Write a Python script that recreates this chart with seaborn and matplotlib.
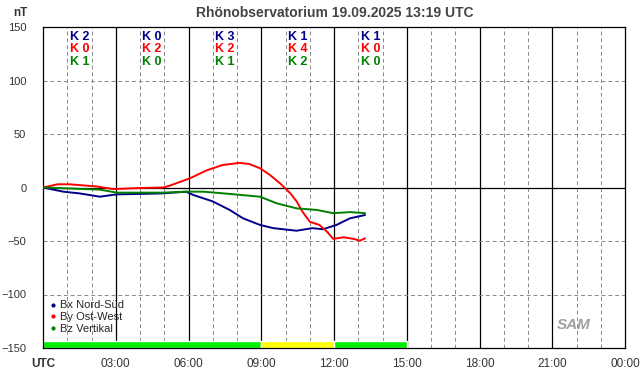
import numpy as np
import pandas as pd
import matplotlib
matplotlib.use("Agg")
import matplotlib.pyplot as plt
import seaborn as sns

# %% data (hours UTC, nT)
bx_h = [0, 0.84, 1.5, 2.35, 3.04, 4.0, 4.96, 5.9, 6.2, 7.0, 7.7, 8.25, 8.95, 9.5, 10.46, 11.1, 11.55, 12.1, 12.66, 13.28]
bx_v = [0, -3.9, -5.5, -8.6, -6.4, -6.0, -5.5, -3.9, -7.0, -13, -21, -28.8, -35, -38, -40.4, -38, -39, -35, -28.8, -25.7]

by_h = [0, 0.6, 1.1, 2.2, 2.9, 4.0, 4.95, 5.2, 6.06, 6.75, 7.4, 8.1, 8.5, 8.95, 9.36, 9.77, 10.2, 10.46, 10.7, 11.0, 11.4, 11.7, 11.97, 12.4, 12.8, 13.07, 13.28]
by_v = [0, 3, 3, 1, -1.5, -0.5, 0, 1.5, 8.6, 16, 21, 23, 22, 18, 11.7, 4, -5.4, -13, -22.6, -32, -35, -41, -48, -46.5, -48, -49.7, -47.5]

bz_h = [0, 1.2, 2.35, 3.04, 4.96, 5.9, 6.6, 7.7, 8.95, 9.64, 10.46, 11.3, 11.97, 12.66, 13.28]
bz_v = [0, -1, -2, -4.8, -4.8, -3.9, -3.9, -6, -8.6, -14.8, -19.5, -21, -24, -23, -24]

k_bx = ["K 2", "K 0", "K 3", "K 1", "K 1"]
k_by = ["K 0", "K 2", "K 2", "K 4", "K 0"]
k_bz = ["K 1", "K 0", "K 1", "K 2", "K 0"]

bar_start = [0, 9, 12]
bar_width = [9, 3, 3]
bar_color = ["#00ee00", "#ffff00", "#00ee00"]

hour_labels = ["UTC", "03:00", "06:00", "09:00", "12:00", "15:00", "18:00", "21:00", "00:00"]
y_ticks = [-150, -100, -50, 0, 50, 100, 150]

names = ["Bx Nord-Süd", "By Ost-West", "Bz Vertikal"]
colors = {"Bx Nord-Süd": "#00008b", "By Ost-West": "#ff0000", "Bz Vertikal": "#008000"}

df = pd.concat([
    pd.DataFrame({"h": bx_h, "v": bx_v, "comp": names[0]}),
    pd.DataFrame({"h": by_h, "v": by_v, "comp": names[1]}),
    pd.DataFrame({"h": bz_h, "v": bz_v, "comp": names[2]}),
])

# %% figure
sns.set_style("white")
plt.rcParams["font.family"] = ["Liberation Sans", "DejaVu Sans"]

fig = plt.figure(figsize=(6.42, 3.76), dpi=100)
ax = fig.add_axes([43 / 642, 28 / 376, 582 / 642, 321 / 376])

# grid
for h in range(1, 24):
    if h % 3 == 0:
        ax.axvline(h, color="black", lw=0.9, zorder=1)
    else:
        ax.axvline(h, color="#888888", lw=0.7, ls=(0, (4, 3)), zorder=1)
for y in [-100, -50, 50, 100]:
    ax.axhline(y, color="#888888", lw=0.7, ls=(0, (4, 3)), zorder=1)
ax.axhline(0, color="black", lw=0.9, zorder=1)

# activity bar
ax.bar(bar_start, 6.5, width=bar_width, bottom=-150, align="edge", color=bar_color, zorder=2)

sns.lineplot(data=df, x="h", y="v", hue="comp", palette=colors, lw=1.4, legend=False, ax=ax, zorder=3)

# K indices
for i in range(5):
    xc = 1.5 + 3 * i
    ax.text(xc, 140.5, k_bx[i], color="#00008b", ha="center", va="center", fontsize=9, fontweight="bold")
    ax.text(xc, 129, k_by[i], color="#ff0000", ha="center", va="center", fontsize=9, fontweight="bold")
    ax.text(xc, 117.5, k_bz[i], color="#008000", ha="center", va="center", fontsize=9, fontweight="bold")

ax.set_xlim(0, 24)
ax.set_ylim(-150, 150)
ax.set_xticks(range(0, 25, 3))
ax.set_xticklabels(hour_labels)
ax.get_xticklabels()[0].set_fontweight("bold")
ax.set_xticks(range(0, 25), minor=True)
ax.set_yticks(y_ticks)
ax.set_xlabel("")
ax.set_ylabel("")
ax.tick_params(axis="x", which="both", direction="inout", length=6, width=0.8, labelsize=8.5, labelcolor="#333333", pad=4)
ax.tick_params(axis="y", direction="out", length=4, width=0.8, labelsize=8, labelcolor="#333333", pad=8)
for s in ax.spines.values():
    s.set_color("black")
    s.set_linewidth(0.9)

# legend
handles = [plt.Line2D([], [], marker="o", ms=2, ls="", color=colors[n]) for n in names]
ax.legend(handles, names, loc="lower left", bbox_to_anchor=(-0.005, 0.02), frameon=False,
          fontsize=8, handletextpad=0.1, labelspacing=0.15, handlelength=1.0, borderaxespad=0.3)

# logo
ax.text(21.9, -128.5, "SAM", fontsize=11, style="italic", fontweight="bold", color="#a0a0a0",
        ha="center", va="center", zorder=4)

fig.text(335 / 642, 1 - 13 / 376, "Rhönobservatorium 19.09.2025 13:19 UTC", ha="center", va="center",
         fontsize=10, fontweight="bold", color="#444444")
fig.text(20 / 642, 1 - 13 / 376, "nT", ha="center", va="center", fontsize=8.5, fontweight="bold", color="#333333")

fig.savefig("out.png", dpi=100)
